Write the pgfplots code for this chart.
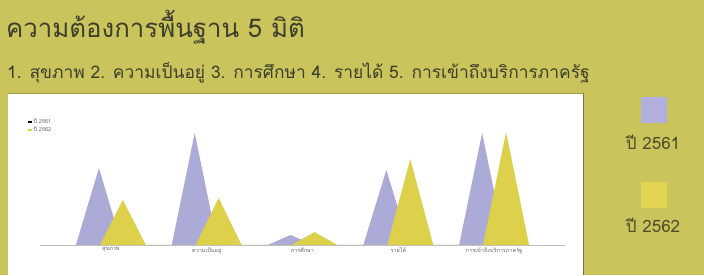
\documentclass[border=0pt]{standalone}
\usepackage{pgfplots}
\pgfplotsset{compat=1.18}
\usepackage{fontspec}
\setmainfont{Loma}[Script=Thai]
\definecolor{bg}{RGB}{201,197,92}
\definecolor{lav}{RGB}{172,170,214}
\definecolor{yel}{RGB}{221,208,75}
\definecolor{lavsq}{RGB}{178,174,222}
\definecolor{yelsq}{RGB}{224,212,82}
\definecolor{titlec}{RGB}{62,62,44}
\definecolor{legc}{RGB}{78,78,40}
\definecolor{panelb}{RGB}{120,118,60}
\begin{document}
\begin{tikzpicture}[x=1pt,y=1pt]
\fill[bg] (0,0) rectangle (704,275);
\fill[white] (8,0) rectangle (583,182);
\draw[panelb,line width=0.8pt] (583,0) -- (583,182);
\draw[bg!80!black,line width=0.6pt] (8,182) -- (583,182);
\node[anchor=base west,inner sep=0,text=titlec,font=\fontsize{25.8}{30}\selectfont] at (6,237) {ความต้องการพื้นฐาน 5 มิติ};
\node[anchor=base west,inner sep=0,text=titlec,font=\fontsize{17.4}{20}\selectfont] at (7,196) {1. สุขภาพ 2. ความเป็นอยู่ 3. การศึกษา 4. รายได้ 5. การเข้าถึงบริการภาครัฐ};
\fill[lavsq] (641,152) rectangle (667,178);
\node[anchor=center,text=legc,font=\fontsize{17}{20}\selectfont] at (653,133) {ปี 2561};
\fill[yelsq] (641,67) rectangle (667,93);
\node[anchor=center,text=legc,font=\fontsize{17}{20}\selectfont] at (653,50) {ปี 2562};
\begin{axis}[
  at={(40pt,30pt)}, anchor=south west, scale only axis,
  width=525pt, height=135pt,
  xmin=-0.74, xmax=4.74, ymin=0, ymax=135,
  axis y line=none, axis x line*=bottom,
  x axis line style={draw=black!25, line width=0.6pt, -},
  xtick={0,1,2,3,4},
  xticklabels={สุขภาพ, ความเป็นอยู่, การศึกษา, รายได้, การเข้าถึงบริการภาครัฐ},
  major tick length=0pt,
  xticklabel style={font=\fontsize{5.5}{6}\selectfont, text=black!60, yshift=1pt},
  clip=false,
  legend style={at={(-0.023,0.95)}, anchor=north west, draw=none, fill=none,
    font=\fontsize{5.5}{6}\selectfont, text=black!60, row sep=-2pt, inner sep=0pt},
  legend cell align=left,
]
\addplot[fill=lav, draw=none,
  legend image code/.code={\fill[black] (0pt,-1.3pt) rectangle (3.5pt,1.3pt);}]
  coordinates {(-0.365,0)(-0.125,77)(0.115,0)(0.635,0)(0.875,112)(1.115,0)(1.635,0)(1.875,10)(2.115,0)(2.635,0)(2.875,75)(3.115,0)(3.635,0)(3.875,112)(4.115,0)} \closedcycle;
\addplot[fill=yel, draw=none,
  legend image code/.code={\fill[yel] (0pt,-1.3pt) rectangle (3.5pt,1.3pt);}]
  coordinates {(-0.115,0)(0.125,45)(0.365,0)(0.885,0)(1.125,47)(1.365,0)(1.885,0)(2.125,13)(2.365,0)(2.885,0)(3.125,86)(3.365,0)(3.885,0)(4.125,113)(4.365,0)} \closedcycle;
\legend{ปี 2561, ปี 2562}
\end{axis}
\end{tikzpicture}
\end{document}
